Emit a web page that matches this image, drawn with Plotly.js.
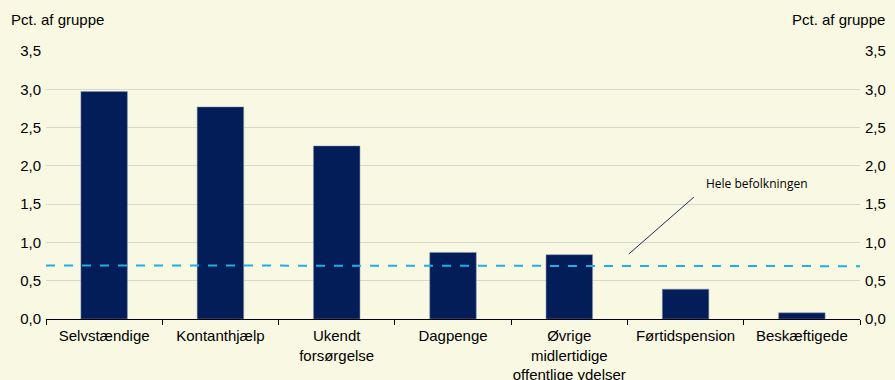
<!DOCTYPE html>
<html>
<head>
<meta charset="utf-8">
<script src="https://cdn.plot.ly/plotly-3.0.1.min.js"></script>
<style>html,body{margin:0;padding:0;background:#F9F8E2;}#chart{width:895px;height:380px;}</style>
</head>
<body>
<div id="chart"></div>
<script>
const categories = ["Selvstændige", "Kontanthjælp", "Ukendt<br>forsørgelse", "Dagpenge", "Øvrige<br>midlertidige<br>offentlige ydelser", "Førtidspension", "Beskæftigede"];
const values = [2.97, 2.77, 2.26, 0.87, 0.84, 0.39, 0.08];
const populationAvg = 0.70;
const yTicks = [0, 0.5, 1, 1.5, 2, 2.5, 3, 3.5];
const axisTitle = "Pct. af gruppe";
const refLabel = "Hele befolkningen";

const bg = "#F9F8E2";
const font = {family: "Liberation Sans, Arial, sans-serif", size: 15, color: "#000"};

const data = [
  {type: "bar", x: categories, y: values, marker: {color: "#031D59", line: {color: "#8a94b0", width: 0.5}}, width: 0.4, hoverinfo: "none"},
  {type: "scatter", x: categories, y: categories.map(() => null), yaxis: "y2", showlegend: false, hoverinfo: "none"}
];

const layout = {
  width: 895, height: 380,
  paper_bgcolor: bg, plot_bgcolor: bg,
  margin: {l: 46, r: 35, t: 51, b: 61},
  separators: ",.",
  showlegend: false,
  font: font,
  xaxis: {type: "category", ticks: "outside", tickson: "boundaries", ticklen: 5, tickcolor: "#000", tickangle: 0,
          showline: true, linecolor: "#000", linewidth: 1, showgrid: false, tickfont: font, ticklabelstandoff: 3},
  yaxis: {range: [0, 3.5], tickvals: yTicks, tickformat: ".1f", showgrid: true, gridcolor: "#D9D8CC",
          zeroline: false, showline: false, ticks: "", ticklabelstandoff: 4, tickfont: font},
  yaxis2: {range: [0, 3.5], tickvals: yTicks, tickformat: ".1f", overlaying: "y", side: "right", showgrid: false,
           zeroline: false, showline: false, ticks: "", ticklabelstandoff: 4, tickfont: font},
  shapes: [
    {type: "line", xref: "paper", x0: 0, x1: 1, yref: "y", y0: populationAvg, y1: populationAvg - 0.01,
     line: {color: "#1FAEE6", width: 2, dash: "dash"}},
    {type: "line", xref: "paper", yref: "paper", x0: 0.716, y0: 0.2425, x1: 0.796, y1: 0.455,
     line: {color: "#1C2F63", width: 1}}
  ],
  annotations: [
    {text: axisTitle, xref: "paper", yref: "paper", x: -0.046, y: 1.078, xanchor: "left", yanchor: "bottom", showarrow: false, font: font},
    {text: axisTitle, xref: "paper", yref: "paper", x: 1.033, y: 1.078, xanchor: "right", yanchor: "bottom", showarrow: false, font: font},
    {text: refLabel, xref: "paper", yref: "paper", x: 0.873, y: 0.465, xanchor: "center", yanchor: "bottom", showarrow: false,
     font: {family: "Open Sans, sans-serif", size: 12, color: "#000"}}
  ]
};

Plotly.newPlot("chart", data, layout, {staticPlot: true, displayModeBar: false});
</script>
</body>
</html>
